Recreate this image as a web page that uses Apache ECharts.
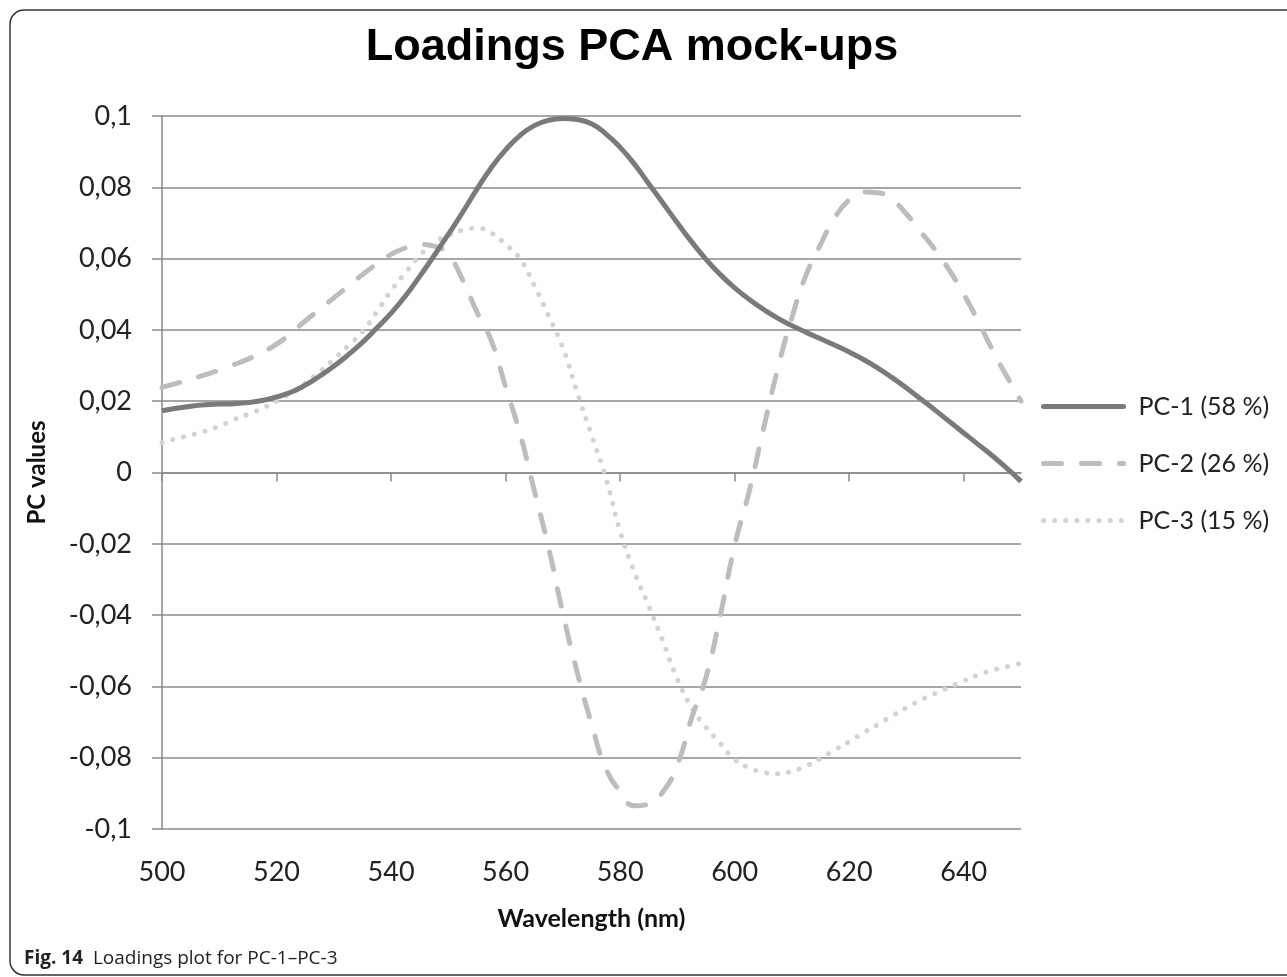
<!DOCTYPE html>
<html>
<head>
<meta charset="utf-8">
<title>Loadings PCA mock-ups</title>
<script src="https://cdn.jsdelivr.net/npm/echarts@6/dist/echarts.min.js"></script>
<style>
  html, body { margin: 0; padding: 0; background: #fff; }
  #chart { width: 1287px; height: 977px; }
</style>
</head>
<body>
<div id="chart"></div>
<script>
// wavelength (nm), every 2.5 nm
const wavelength = [
  500, 502.5, 505, 507.5, 510, 512.5, 515, 517.5, 520, 522.5,
  525, 527.5, 530, 532.5, 535, 537.5, 540, 542.5, 545, 547.5,
  550, 552.5, 555, 557.5, 560, 562.5, 565, 567.5, 570, 572.5,
  575, 577.5, 580, 582.5, 585, 587.5, 590, 592.5, 595, 597.5,
  600, 602.5, 605, 607.5, 610, 612.5, 615, 617.5, 620, 622.5,
  625, 627.5, 630, 632.5, 635, 637.5, 640, 642.5, 645, 647.5, 650
]

const pc1 = [
  0.0173, 0.0180, 0.0186, 0.0190, 0.0192, 0.0193, 0.0196, 0.0202, 0.0212, 0.0225,
  0.0245, 0.0270, 0.0298, 0.0330, 0.0365, 0.0405, 0.0447, 0.0495, 0.0550, 0.0608,
  0.0668, 0.0730, 0.0795, 0.0855, 0.0905, 0.0945, 0.0973, 0.0988, 0.0993, 0.0990,
  0.0978, 0.0950, 0.0912, 0.0865, 0.0810, 0.0755, 0.0700, 0.0647, 0.0598, 0.0555,
  0.0518, 0.0486, 0.0458, 0.0433, 0.0412, 0.0393, 0.0375, 0.0357, 0.0338, 0.0317,
  0.0293, 0.0266, 0.0237, 0.0206, 0.0175, 0.0143, 0.0111, 0.0079, 0.0047, 0.0012, -0.0025
]

const pc2 = [
  0.0239, 0.0250, 0.0262, 0.0274, 0.0287, 0.0302, 0.0318, 0.0337, 0.0360, 0.0390,
  0.0425, 0.0457, 0.0490, 0.0522, 0.0555, 0.0585, 0.0612, 0.0630, 0.0640, 0.0635,
  0.0610, 0.0540, 0.0450, 0.0370, 0.0240, 0.0110, -0.0050, -0.0210, -0.0395, -0.0560,
  -0.0705, -0.0830, -0.0895, -0.0935, -0.0930, -0.0895, -0.0820, -0.0688, -0.0574, -0.0400,
  -0.0205, -0.0055, 0.0120, 0.0290, 0.0435, 0.0555, 0.0640, 0.0715, 0.0765, 0.0787,
  0.0785, 0.0765, 0.0725, 0.0675, 0.0625, 0.0567, 0.0500, 0.0425, 0.0344, 0.0270, 0.0200
]

const pc3 = [
  0.0084, 0.0095, 0.0105, 0.0116, 0.0130, 0.0148, 0.0163, 0.0180, 0.0200, 0.0222,
  0.0250, 0.0282, 0.0318, 0.0355, 0.0395, 0.0450, 0.0510, 0.0560, 0.0608, 0.0645,
  0.0665, 0.0680, 0.0685, 0.0672, 0.0640, 0.0600, 0.0525, 0.0440, 0.0350, 0.0225,
  0.0105, -0.0015, -0.0165, -0.0280, -0.0375, -0.0475, -0.0580, -0.0660, -0.0715, -0.0760,
  -0.0805, -0.0828, -0.0841, -0.0845, -0.0838, -0.0823, -0.0802, -0.0778, -0.0755, -0.0730,
  -0.0707, -0.0683, -0.0660, -0.0638, -0.0620, -0.0602, -0.0585, -0.0568, -0.0555, -0.0545, -0.0535
]

const seriesNames = ['PC-1 (58 %)', 'PC-2 (26 %)', 'PC-3 (15 %)']
const xTicks = [500, 520, 540, 560, 580, 600, 620, 640]

const zip = (ys) => wavelength.map((x, i) => [x, ys[i]])

// decimal comma like the original
const fmtY = (v) => {
  const s = String(Math.round(v * 100) / 100)
  return s.replace('.', ',')
}

const gridColor = '#8a8a8a'
const labelFont = 'Lato, "Open Sans", sans-serif'

const chart = echarts.init(document.getElementById('chart'))

chart.setOption({
  backgroundColor: '#fff',
  animation: false,
  title: {
    text: 'Loadings PCA mock-ups',
    left: 627,
    top: 20,
    textAlign: 'center',
    textStyle: {
      fontFamily: '"Liberation Sans", Arial, sans-serif',
      fontWeight: 'bold',
      fontSize: 45,
      color: '#000'
    }
  },
  grid: {
    left: 162,
    right: 266,
    top: 116,
    bottom: 148,
    containLabel: false
  },
  legend: {
    orient: 'vertical',
    left: 1036,
    top: 389,
    itemWidth: 80,
    itemHeight: 20,
    itemGap: 32,
    itemStyle: { opacity: 0 },
    lineStyle: { width: 5, cap: 'round' },
    textStyle: {
      fontFamily: labelFont,
      fontSize: 25,
      color: '#222',
      padding: [0, 0, 0, 10]
    },
    data: seriesNames
  },
  xAxis: [
    {
      type: 'value',
      min: 500,
      max: 650,
      interval: 20,
      name: 'Wavelength (nm)',
      nameLocation: 'middle',
      nameGap: 77,
      nameTextStyle: {
        fontFamily: labelFont,
        fontWeight: 'bold',
        fontSize: 25,
        color: '#111'
      },
      axisLine: { show: false, onZero: false },
      axisTick: { show: false },
      splitLine: { show: false },
      axisLabel: {
        showMaxLabel: false,
        margin: 30,
        fontFamily: labelFont,
        fontSize: 27,
        color: '#222'
      }
    },
    {
      type: 'value',
      min: 500,
      max: 650,
      interval: 20,
      position: 'bottom',
      axisLine: { show: true, onZero: true, lineStyle: { color: gridColor, width: 1.5 } },
      axisTick: {
        show: true,
        length: 9,
        customValues: xTicks,
        lineStyle: { color: gridColor, width: 1.5 }
      },
      axisLabel: { show: false },
      splitLine: { show: false }
    }
  ],
  yAxis: {
    type: 'value',
    min: -0.1,
    max: 0.1,
    interval: 0.02,
    name: 'PC values',
    nameLocation: 'middle',
    nameRotate: 90,
    nameGap: 113,
    nameTextStyle: {
      fontFamily: labelFont,
      fontWeight: 'bold',
      fontSize: 24,
      color: '#111'
    },
    axisLine: { show: true, lineStyle: { color: gridColor, width: 1.5 } },
    axisTick: { show: true, length: 10, lineStyle: { color: gridColor, width: 1.5 } },
    splitLine: { show: true, lineStyle: { color: gridColor, width: 1.5 } },
    axisLabel: {
      margin: 30,
      formatter: fmtY,
      fontFamily: labelFont,
      fontSize: 27,
      color: '#222'
    }
  },
  series: [
    {
      name: seriesNames[0],
      type: 'line',
      xAxisIndex: 0,
      data: zip(pc1),
      smooth: 0.5,
      symbol: 'none',
      lineStyle: { color: '#7a7a7a', width: 5 },
      itemStyle: { color: '#7a7a7a' },
      z: 4
    },
    {
      name: seriesNames[1],
      type: 'line',
      xAxisIndex: 0,
      data: zip(pc2),
      smooth: 0.5,
      symbol: 'none',
      lineStyle: { color: '#bdbdbd', width: 5, type: [18, 20], cap: 'round' },
      itemStyle: { color: '#bdbdbd' },
      z: 3
    },
    {
      name: seriesNames[2],
      type: 'line',
      xAxisIndex: 0,
      data: zip(pc3),
      smooth: 0.5,
      symbol: 'none',
      lineStyle: { color: '#d3d3d3', width: 5, type: [0.1, 11], cap: 'round' },
      itemStyle: { color: '#d3d3d3' },
      z: 2
    }
  ],
  graphic: [
    {
      type: 'rect',
      shape: { x: 10, y: 10, width: 1295, height: 965, r: 14 },
      style: { fill: 'none', stroke: '#333', lineWidth: 1.5 },
      silent: true
    },
    {
      type: 'text',
      left: 24,
      top: 949,
      style: {
        text: '{b|Fig. 14}  Loadings plot for PC-1–PC-3',
        fontFamily: '"Open Sans", sans-serif',
        fontSize: 19,
        fill: '#222',
        rich: {
          b: {
            fontFamily: '"Open Sans", sans-serif',
            fontSize: 19,
            fontWeight: 'bold',
            fill: '#222'
          }
        }
      }
    }
  ]
})
</script>
</body>
</html>
